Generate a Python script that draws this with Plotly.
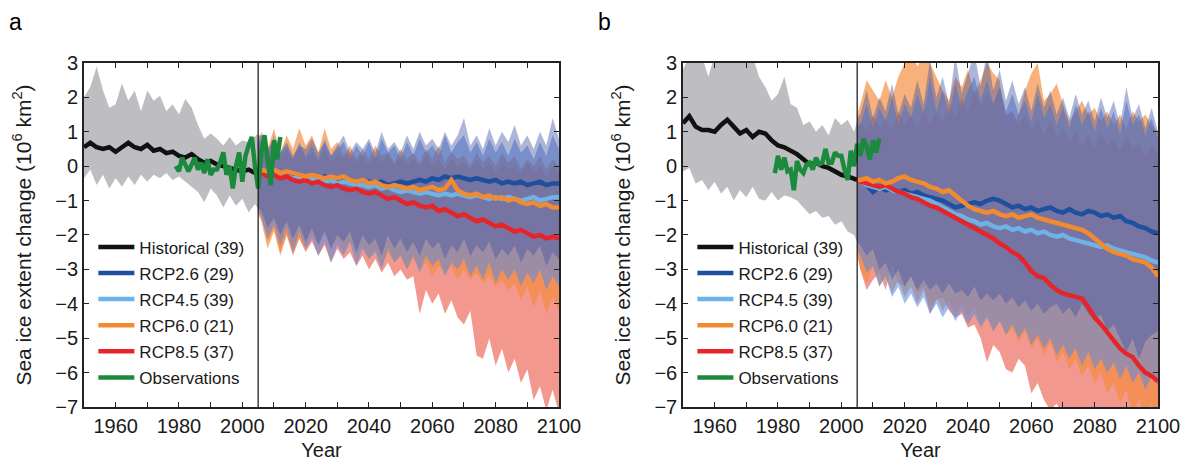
import plotly.graph_objects as go

# ---------------- data ----------------
HIST_YEARS = list(range(1950, 2005, 2)) + [2005]
RCP_YEARS = [2005] + list(range(2006, 2101, 2))
OBS_YEARS = list(range(1979, 2013))
X_TICKS = list(range(1950, 2101, 10))
X_LABELS = ["" if (v - 1960) % 20 else str(v) for v in X_TICKS]
Y_TICKS = list(range(-7, 4))
Y_LABELS = [str(v).replace("-", "\u2212") for v in Y_TICKS]
SCENARIO_START = 2005

NAMES = ["Historical (39)", "RCP2.6 (29)", "RCP4.5 (39)", "RCP6.0 (21)", "RCP8.5 (37)", "Observations"]

# ---- panel a ----
A_HIST_MEAN = [0.55, 0.68, 0.55, 0.5, 0.55, 0.42, 0.55, 0.68, 0.55, 0.5, 0.62, 0.45, 0.5, 0.38, 0.42,
               0.3, 0.25, 0.35, 0.2, 0.1, 0.15, 0.05, 0.0, -0.05, -0.1, -0.15, -0.1, -0.2, -0.2]
A_HIST_UP = [2.0, 2.3, 2.9, 2.2, 1.7, 1.8, 2.4, 1.9, 2.2, 1.6, 2.2, 1.9, 2.05, 1.6, 1.8,
             1.5, 1.95, 1.7, 1.2, 0.8, 0.95, 0.8, 0.6, 0.85, 0.6, 0.75, 0.7, 0.85, 0.95]
A_HIST_LO = [-0.35, -0.1, -0.55, -0.25, -0.65, -0.35, -0.6, -0.3, -0.55, -0.25, -0.45, -0.25, -0.35, -0.2, -0.4,
             -0.3, -0.45, -0.6, -0.75, -1.05, -0.65, -0.85, -1.2, -0.85, -1.15, -0.95, -1.35, -1.1, -1.25]
A_OBS = [0.0, -0.15, 0.25, 0.05, -0.15, 0.05, 0.25, -0.1, 0.1, -0.2,
         0.2, -0.25, -0.1, -0.1, 0.1, 0.4, -0.25, 0.0, -0.65, 0.0,
         0.4, -0.45, 0.3, 0.6, 0.85, 0.0, -0.65, 0.4, 0.9, 0.2,
         -0.55, 0.75, 0.2, 0.85]

A_RCP26_MEAN = [-0.2,
                -0.2, -0.15, -0.25, -0.2, -0.3, -0.25, -0.3, -0.35,
                -0.3, -0.35, -0.3, -0.4, -0.35, -0.45, -0.4, -0.45,
                -0.5, -0.45, -0.5, -0.45, -0.55, -0.5, -0.45, -0.5,
                -0.45, -0.4, -0.45, -0.35, -0.4, -0.3, -0.35, -0.3,
                -0.35, -0.4, -0.35, -0.4, -0.45, -0.4, -0.5, -0.45,
                -0.5, -0.45, -0.55, -0.5, -0.45, -0.55, -0.5, -0.5]
A_RCP45_MEAN = [-0.2,
                -0.2, -0.2, -0.25, -0.3, -0.3, -0.35, -0.35, -0.4,
                -0.35, -0.4, -0.45, -0.4, -0.5, -0.45, -0.5, -0.55,
                -0.55, -0.6, -0.55, -0.65, -0.6, -0.7, -0.75, -0.7,
                -0.75, -0.8, -0.75, -0.8, -0.85, -0.8, -0.85, -0.8,
                -0.85, -0.9, -0.85, -0.9, -0.95, -0.9, -0.95, -0.9,
                -0.95, -1.0, -0.95, -0.9, -1.0, -0.95, -0.9, -0.9]
A_RCP60_MEAN = [-0.2,
                -0.1, -0.15, -0.1, -0.2, -0.15, -0.2, -0.25, -0.3,
                -0.25, -0.3, -0.35, -0.3, -0.35, -0.3, -0.4, -0.45,
                -0.4, -0.5, -0.45, -0.55, -0.6, -0.55, -0.6, -0.65,
                -0.6, -0.7, -0.65, -0.6, -0.7, -0.65, -0.4, -0.7,
                -0.8, -0.85, -0.8, -0.9, -0.85, -0.95, -0.9, -1.0,
                -0.95, -1.05, -1.1, -1.05, -1.15, -1.1, -1.2, -1.2]
A_RCP85_MEAN = [-0.2,
                -0.2, -0.3, -0.25, -0.35, -0.3, -0.4, -0.45, -0.4,
                -0.5, -0.45, -0.55, -0.6, -0.55, -0.65, -0.7, -0.65,
                -0.75, -0.8, -0.75, -0.85, -0.95, -0.9, -1.0, -1.1,
                -1.05, -1.15, -1.2, -1.15, -1.3, -1.25, -1.35, -1.45,
                -1.4, -1.5, -1.6, -1.55, -1.65, -1.75, -1.7, -1.8,
                -1.9, -1.85, -1.95, -2.05, -2.0, -2.1, -2.05, -2.1]

A_RCP26_UP = [0.9,
              0.9, 0.5, 0.8, 0.4, 0.7, 0.3, 0.6, 0.5,
              0.8, 0.4, 0.7, 0.3, 0.6, 0.9, 0.4, 0.7,
              0.5, 0.8, 0.4, 1.0, 0.5, 0.7, 0.4, 0.9,
              0.5, 1.0, 0.6, 0.8, 0.5, 1.0, 0.6, 0.9,
              1.4, 0.6, 0.9, 0.5, 1.1, 0.6, 1.0, 0.7,
              1.2, 0.6, 0.9, 0.5, 1.0, 0.6, 1.4, 0.8]
A_RCP26_LO = [-1.2,
              -1.3, -1.8, -1.5, -2.0, -1.6, -2.1, -1.7, -2.2,
              -1.8, -2.3, -1.9, -2.4, -2.0, -2.2, -1.9, -2.5,
              -2.0, -2.3, -2.1, -2.6, -2.0, -2.4, -2.1, -2.5,
              -2.2, -2.6, -2.1, -2.4, -2.2, -2.7, -2.3, -2.5,
              -2.1, -2.6, -2.3, -2.5, -2.2, -2.7, -2.4, -2.6,
              -2.3, -2.8, -2.4, -2.6, -2.3, -2.9, -2.5, -2.7]
A_RCP45_UP = [0.8,
              0.7, 0.3, 0.9, 0.4, 0.6, 0.2, 0.7, 0.3,
              0.6, 0.2, 0.8, 0.3, 0.5, 0.7, 0.2, 0.6,
              0.3, 0.7, 0.2, 0.8, 0.4, 0.6, 0.2, 0.7,
              0.3, 0.8, 0.4, 0.6, 0.3, 0.9, 0.4, 0.7,
              0.9, 0.4, 0.7, 0.3, 0.8, 0.4, 0.7, 0.3,
              0.8, 0.4, 0.6, 0.2, 0.7, 0.3, 0.9, 0.5]
A_RCP45_LO = [-1.3,
              -1.5, -2.1, -1.7, -2.3, -1.8, -2.5, -1.9, -2.4,
              -2.1, -2.6, -2.2, -2.8, -2.3, -2.6, -2.2, -2.9,
              -2.4, -2.7, -2.5, -3.0, -2.4, -2.8, -2.6, -3.0,
              -2.6, -3.1, -2.6, -2.9, -2.7, -3.2, -2.8, -3.0,
              -2.7, -3.2, -2.9, -3.3, -2.8, -3.4, -3.0, -3.3,
              -3.0, -3.5, -3.1, -3.4, -3.0, -3.6, -3.2, -3.5]
A_RCP60_UP = [0.7,
              1.0, 0.5, 1.1, 0.4, 0.9, 0.5, 1.1, 0.6,
              0.9, 0.4, 1.1, 0.5, 0.7, 0.3, 0.6, 0.2,
              0.5, 0.2, 0.6, 0.3, 0.4, 0.1, 0.5, 0.2,
              0.4, 0.1, 0.5, 0.2, 0.6, 0.1, 0.4, 0.2,
              0.3, 0.0, 0.4, 0.1, 0.3, 0.0, 0.4, 0.1,
              0.3, -0.1, 0.2, 0.0, 0.3, -0.1, 0.2, 0.0]
A_RCP60_LO = [-1.4,
              -1.6, -2.4, -1.9, -2.6, -2.0, -2.5, -2.1, -2.4,
              -2.0, -2.3, -1.9, -2.4, -2.1, -2.5, -2.2, -2.6,
              -2.3, -2.7, -2.4, -2.9, -2.5, -2.8, -2.6, -3.0,
              -2.7, -3.0, -2.8, -3.2, -2.9, -3.1, -2.9, -3.3,
              -3.0, -3.3, -3.1, -3.4, -3.2, -3.5, -3.3, -3.6,
              -3.4, -3.9, -3.5, -4.1, -3.6, -4.3, -3.8, -4.2]
A_RCP85_UP = [0.6,
              0.6, 0.2, 0.7, 0.2, 0.5, 0.2, 0.6, 0.2,
              0.4, 0.1, 0.5, 0.1, 0.3, 0.2, 0.4, 0.1,
              0.3, 0.0, 0.3, 0.1, 0.3, 0.0, 0.3, 0.0,
              0.2, 0.0, 0.3, 0.0, 0.2, -0.1, 0.2, 0.0,
              0.1, -0.1, 0.2, -0.1, 0.1, -0.2, 0.1, -0.1,
              0.0, -0.2, 0.1, -0.2, 0.0, -0.3, 0.0, -0.2]
A_RCP85_LO = [-1.3,
              -1.5, -2.2, -1.8, -2.5, -2.0, -2.6, -2.1, -2.5,
              -2.2, -2.6, -2.3, -2.8, -2.4, -2.7, -2.5, -2.9,
              -2.6, -3.0, -2.7, -3.1, -2.8, -3.2, -3.0, -3.3,
              -3.2, -4.3, -3.6, -4.0, -3.7, -4.3, -3.9, -4.4,
              -4.6, -4.2, -5.5, -5.6, -5.0, -5.8, -5.3, -6.0,
              -5.6, -6.3, -5.9, -6.8, -6.4, -7.1, -6.5, -7.2]

# ---- panel b ----
B_HIST_MEAN = [1.25, 1.45, 1.15, 1.05, 1.05, 1.0, 1.2, 1.35, 1.15, 0.95, 1.05, 0.85, 1.0, 0.95, 0.75,
               0.6, 0.55, 0.45, 0.35, 0.2, 0.05, 0.1, 0.0, -0.05, -0.15, -0.25, -0.3, -0.35, -0.4]
B_HIST_UP = [2.8, 3.2, 3.2, 3.2, 2.6, 3.2, 3.2, 3.2, 3.2, 3.2, 3.2, 3.2, 2.6, 2.3, 1.9,
             2.1, 2.6, 1.8, 1.7, 1.2, 1.3, 1.0, 1.2, 0.9, 1.4, 1.2, 1.35, 1.0, 1.3]
B_HIST_LO = [-0.15, -0.05, -0.5, -0.4, -0.7, -0.45, -0.8, -0.6, -1.0, -0.7, -0.9, -0.6, -0.95, -1.0, -0.75,
             -1.0, -0.85, -0.9, -1.0, -1.2, -1.4, -1.3, -1.5, -1.45, -1.7, -1.6, -1.9, -2.0, -2.2]
B_OBS = [-0.2, 0.3, -0.1, 0.25, -0.15, -0.1, -0.7, 0.15, -0.1, -0.2,
         0.05, 0.1, -0.1, 0.25, 0.05, 0.1, 0.5, 0.1, 0.1, 0.4,
         0.3, 0.3, -0.1, -0.4, 0.45, 0.0, 0.65, 0.3, 0.8, 0.55,
         0.2, 0.75, 0.4, 0.8]

B_RCP26_MEAN = [-0.4,
                -0.45, -0.55, -0.75, -0.6, -0.7, -0.65, -0.75, -0.7,
                -0.8, -0.75, -0.85, -0.9, -0.95, -1.0, -1.1, -1.2,
                -1.15, -1.1, -1.05, -1.1, -1.0, -0.95, -1.0, -1.1,
                -1.2, -1.15, -1.25, -1.2, -1.3, -1.25, -1.2, -1.3,
                -1.35, -1.25, -1.35, -1.4, -1.3, -1.35, -1.45, -1.4,
                -1.5, -1.45, -1.6, -1.65, -1.75, -1.8, -1.9, -1.95]
B_RCP45_MEAN = [-0.4,
                -0.45, -0.55, -0.6, -0.65, -0.6, -0.7, -0.75, -0.8,
                -0.85, -0.9, -0.95, -1.0, -1.1, -1.2, -1.3, -1.4,
                -1.45, -1.55, -1.6, -1.7, -1.65, -1.75, -1.8, -1.75,
                -1.85, -1.8, -1.9, -1.85, -1.95, -1.9, -2.0, -2.05,
                -2.0, -2.1, -2.15, -2.2, -2.25, -2.3, -2.35, -2.3,
                -2.4, -2.45, -2.5, -2.55, -2.6, -2.65, -2.75, -2.8]
B_RCP60_MEAN = [-0.4,
                -0.4, -0.35, -0.45, -0.4, -0.5, -0.45, -0.35, -0.3,
                -0.4, -0.45, -0.5, -0.6, -0.65, -0.75, -0.7, -0.85,
                -1.0, -1.15, -1.25, -1.3, -1.35, -1.3, -1.4, -1.45,
                -1.4, -1.5, -1.45, -1.4, -1.5, -1.55, -1.6, -1.65,
                -1.7, -1.75, -1.8, -1.85, -1.95, -2.1, -2.25, -2.4,
                -2.5, -2.55, -2.6, -2.7, -2.75, -2.8, -2.95, -3.2]
B_RCP85_MEAN = [-0.4,
                -0.45, -0.5, -0.55, -0.6, -0.55, -0.65, -0.75, -0.8,
                -0.9, -0.95, -1.05, -1.15, -1.2, -1.3, -1.4, -1.5,
                -1.6, -1.7, -1.8, -1.9, -2.0, -2.1, -2.25, -2.35,
                -2.5, -2.6, -2.8, -3.05, -3.2, -3.25, -3.45, -3.6,
                -3.7, -3.75, -3.8, -3.85, -4.1, -4.4, -4.6, -4.85,
                -5.05, -5.3, -5.45, -5.55, -5.8, -6.0, -6.1, -6.25]

B_RCP26_UP = [1.4,
              1.5, 2.2, 1.4, 2.0, 1.6, 2.4, 1.5, 2.1,
              1.7, 2.5, 1.8, 3.1, 2.0, 2.6, 1.8, 3.2,
              2.1, 2.7, 3.3, 2.3, 3.3, 2.2, 2.8, 1.9,
              2.5, 1.8, 2.3, 1.6, 2.4, 1.7, 2.2, 1.5,
              2.0, 1.4, 2.1, 1.5, 1.9, 1.3, 2.0, 1.4,
              1.9, 1.2, 2.3, 1.4, 1.8, 1.1, 1.7, 1.0]
B_RCP26_LO = [-2.2,
              -2.3, -2.6, -2.4, -3.0, -2.8, -3.3, -3.0, -3.5,
              -3.2, -3.6, -3.3, -3.6, -3.4, -3.7, -3.4, -3.7,
              -3.6, -3.8, -3.5, -3.9, -3.7, -3.9, -3.7, -4.0,
              -3.8, -4.1, -3.9, -4.2, -4.0, -4.3, -4.1, -4.0,
              -4.3, -4.1, -4.4, -4.0, -4.3, -4.5, -4.3, -4.8,
              -4.6, -5.0, -5.4, -5.0, -5.6, -5.1, -4.9, -4.8]
B_RCP45_UP = [1.2,
              1.2, 1.8, 1.1, 1.7, 1.3, 2.0, 1.2, 1.8,
              1.4, 2.1, 1.5, 2.6, 1.6, 2.2, 1.5, 2.4,
              1.7, 2.2, 2.6, 1.9, 2.5, 1.8, 2.3, 1.6,
              2.1, 1.5, 1.9, 1.3, 2.1, 1.4, 1.8, 1.2,
              1.7, 1.1, 1.8, 1.2, 1.6, 1.0, 1.7, 1.1,
              1.6, 0.9, 1.9, 1.2, 1.5, 0.9, 1.4, 0.8]
B_RCP45_LO = [-2.4,
              -2.6, -3.1, -2.9, -3.5, -3.2, -3.8, -3.5, -4.0,
              -3.7, -4.1, -3.8, -4.3, -4.0, -4.4, -4.1, -4.5,
              -4.2, -4.6, -4.3, -4.7, -4.4, -4.8, -4.5, -4.9,
              -4.6, -5.0, -4.7, -5.2, -4.9, -5.3, -5.0, -5.5,
              -5.2, -5.6, -5.3, -5.8, -5.4, -5.9, -5.6, -6.0,
              -5.7, -6.2, -5.8, -6.3, -6.0, -6.5, -6.1, -6.4]
B_RCP60_UP = [1.5,
              1.8, 2.5, 2.2, 1.9, 2.5, 2.0, 2.6, 3.0,
              3.3, 2.9, 3.2, 3.0, 2.6, 2.2, 1.9, 2.6,
              2.3, 2.8, 2.1, 2.5, 3.0, 2.7, 2.5, 1.3,
              1.1, 1.5, 2.2, 2.7, 3.0, 1.9, 2.1, 2.4,
              1.8, 1.3, 1.6, 1.9, 1.5, 1.7, 1.3, 1.6,
              1.2, 1.5, 1.1, 1.6, 1.3, 1.5, 1.2, 1.0]
B_RCP60_LO = [-2.6,
              -3.0, -3.4, -2.9, -3.5, -3.2, -3.7, -3.3, -3.8,
              -3.5, -4.0, -3.6, -4.1, -3.8, -4.2, -3.9, -4.3,
              -4.0, -4.4, -4.1, -4.6, -4.3, -4.8, -4.5, -4.9,
              -4.7, -5.1, -4.8, -5.3, -5.0, -5.5, -5.1, -5.7,
              -5.4, -5.9, -5.6, -6.1, -5.8, -6.3, -6.0, -6.6,
              -6.3, -6.9, -6.5, -7.2, -6.8, -7.3, -6.9, -7.4]
B_RCP85_UP = [1.1,
              1.3, 1.0, 1.5, 1.1, 1.4, 1.0, 1.6, 1.2,
              1.5, 1.1, 1.7, 1.2, 1.6, 1.3, 1.8, 1.4,
              2.0, 1.6, 2.2, 1.7, 2.1, 1.8, 2.3, 1.5,
              1.6, 1.2, 1.5, 1.0, 1.4, 0.9, 1.3, 0.8,
              1.1, 0.7, 1.0, 0.6, 0.9, 0.5, 1.0, 0.6,
              0.8, 0.4, 0.9, 0.5, 0.7, 0.3, 0.6, 0.4]
B_RCP85_LO = [-2.5,
              -3.0, -3.6, -3.3, -3.1, -3.6, -2.8, -3.4, -3.5,
              -3.2, -3.7, -3.5, -4.3, -3.9, -3.8, -4.2, -4.4,
              -4.3, -4.7, -4.6, -5.0, -5.7, -5.2, -5.4, -5.9,
              -6.0, -5.6, -5.8, -6.6, -6.3, -6.8, -7.1, -6.9,
              -7.3, -7.5, -7.4, -7.6, -7.3, -7.5, -7.6, -7.4,
              -7.6, -7.5, -7.8, -7.5, -7.6, -7.7, -7.5, -7.8]

# ---------------- styles ----------------
LINE_COLORS = ["#111111", "#1f4f9f", "#6db3e6", "#f28a30", "#e6252b", "#1a8a3c"]
FILL_COLORS = {"hist": "#bebec2",
               "85": "rgba(238,112,98,0.72)", "60": "rgba(245,140,60,0.68)",
               "45": "rgba(95,140,220,0.58)", "26": "rgba(62,82,162,0.42)"}
FONT = "Liberation Sans, Arial, sans-serif"

panels = [
    dict(xa="x", ya="y", legend="legend",
         hist=(A_HIST_MEAN, A_HIST_UP, A_HIST_LO), obs=A_OBS,
         bands={"85": (A_RCP85_UP, A_RCP85_LO), "60": (A_RCP60_UP, A_RCP60_LO),
                "45": (A_RCP45_UP, A_RCP45_LO), "26": (A_RCP26_UP, A_RCP26_LO)},
         means={"26": A_RCP26_MEAN, "45": A_RCP45_MEAN, "60": A_RCP60_MEAN, "85": A_RCP85_MEAN}),
    dict(xa="x2", ya="y2", legend="legend2",
         hist=(B_HIST_MEAN, B_HIST_UP, B_HIST_LO), obs=B_OBS,
         bands={"85": (B_RCP85_UP, B_RCP85_LO), "60": (B_RCP60_UP, B_RCP60_LO),
                "45": (B_RCP45_UP, B_RCP45_LO), "26": (B_RCP26_UP, B_RCP26_LO)},
         means={"26": B_RCP26_MEAN, "45": B_RCP45_MEAN, "60": B_RCP60_MEAN, "85": B_RCP85_MEAN}),
]

fig = go.Figure()


def band(years, up, lo, color, xa, ya):
    fig.add_trace(go.Scatter(x=years + years[::-1], y=up + lo[::-1], mode="lines",
                             fill="toself", fillcolor=color, line=dict(width=0),
                             hoverinfo="skip", showlegend=False, xaxis=xa, yaxis=ya))


def line(years, vals, idx, p):
    fig.add_trace(go.Scatter(x=years, y=vals, mode="lines", name=NAMES[idx],
                             line=dict(color=LINE_COLORS[idx], width=4.5),
                             legend=p["legend"], legendgroup=p["legend"] + str(idx),
                             legendrank=idx + 1, xaxis=p["xa"], yaxis=p["ya"]))


key_idx = {"26": 1, "45": 2, "60": 3, "85": 4}
for p in panels:
    hm, hu, hl = p["hist"]
    band(HIST_YEARS, hu, hl, FILL_COLORS["hist"], p["xa"], p["ya"])
    for k in ["85", "60", "45", "26"]:
        u, l = p["bands"][k]
        band(RCP_YEARS, u, l, FILL_COLORS[k], p["xa"], p["ya"])
    line(HIST_YEARS, hm, 0, p)
    for k in ["26", "45", "85", "60"]:
        line(RCP_YEARS, p["means"][k], key_idx[k], p)
    line(OBS_YEARS, p["obs"], 5, p)

axis_common = dict(showline=True, mirror="ticks", linecolor="#222", linewidth=1.6,
                   ticks="inside", ticklen=5, tickwidth=1.2, tickcolor="#222",
                   showgrid=False, zeroline=False, automargin=False,
                   tickfont=dict(family=FONT, size=20, color="#1a1a1a"))
xcommon = dict(axis_common, range=[1950, 2100], tickvals=X_TICKS, ticktext=X_LABELS,
               title=dict(text="Year", font=dict(family=FONT, size=20, color="#1a1a1a"), standoff=7))
ycommon = dict(axis_common, range=[-7, 3], tickvals=Y_TICKS, ticktext=Y_LABELS,
               title=dict(text="Sea ice extent change (10<sup>6</sup> km<sup>2</sup>)",
                          font=dict(family=FONT, size=21, color="#1a1a1a"), standoff=18))

legend_common = dict(font=dict(family=FONT, size=17, color="#1a1a1a"), bgcolor="rgba(0,0,0,0)",
                     borderwidth=0, traceorder="grouped", tracegroupgap=1,
                     yanchor="top", y=0.523, xanchor="left", itemwidth=36)

fig.update_layout(
    width=1189, height=464, margin=dict(l=0, r=0, t=0, b=0, autoexpand=False),
    paper_bgcolor="white", plot_bgcolor="white", showlegend=True,
    xaxis=dict(xcommon, domain=[0.0639, 0.4634], anchor="y"),
    yaxis=dict(ycommon, domain=[0.1401, 0.8815], anchor="x"),
    xaxis2=dict(xcommon, domain=[0.5677, 0.9672], anchor="y2"),
    yaxis2=dict(ycommon, domain=[0.1401, 0.8815], anchor="x2"),
    legend=dict(legend_common, x=0.0718),
    legend2=dict(legend_common, x=0.5756),
    shapes=[dict(type="line", xref=xr, yref=yr + " domain", x0=SCENARIO_START, x1=SCENARIO_START,
                 y0=0, y1=1, line=dict(color="#111", width=1.2), layer="above")
            for xr, yr in [("x", "y"), ("x2", "y2")]],
    annotations=[dict(text="a", x=0, y=1, xref="paper", yref="paper",
                      xanchor="left", yanchor="top", showarrow=False, borderpad=0,
                      font=dict(family=FONT, size=23, color="black")),
                 dict(text="b", x=589 / 1189, y=1, xref="paper", yref="paper",
                      xanchor="left", yanchor="top", showarrow=False, borderpad=0,
                      font=dict(family=FONT, size=23, color="black"))],
)

fig.write_html("out.html")
